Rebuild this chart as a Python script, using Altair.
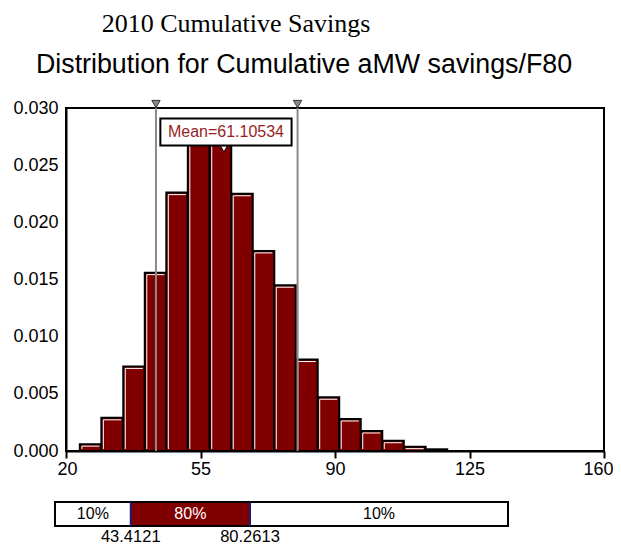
import altair as alt
import pandas as pd

# ---- data ----
bin_edges = [23.6, 29.2, 34.9, 40.5, 46.1, 51.7, 57.4, 63.0, 68.6, 74.2, 79.8,
             85.5, 91.1, 96.7, 102.3, 107.9, 113.6, 119.2]
density = [0.0006, 0.0029, 0.0074, 0.0156, 0.0226, 0.0280, 0.0276, 0.0225,
           0.0175, 0.0145, 0.0080, 0.0047, 0.0028, 0.00175, 0.0009, 0.00038, 0.00015]
percentiles = [43.4121, 80.2613]
percentile_labels = ["43.4121", "80.2613"]
mean_value = 61.10534
mean_label = "Mean=61.10534"
x_ticks = [20, 55, 90, 125, 160]
y_ticks = [0.000, 0.005, 0.010, 0.015, 0.020, 0.025, 0.030]
band_start = [20, 43.4121, 80.2613]
band_end = [43.4121, 80.2613, 160]
band_text = ["10%", "80%", "10%"]
band_fill = ["white", "#800000", "white"]
band_text_color = ["black", "white", "black"]
title_text = "2010 Cumulative Savings"
subtitle_text = "Distribution for Cumulative aMW savings/F80"

W, H = 538, 343
DARK_RED = "#800000"

hist_df = pd.DataFrame({
    "start": bin_edges[:-1],
    "end": bin_edges[1:],
    "density": density,
    "zero": [0.0] * len(density),
})
hl_df = hist_df[hist_df["density"] > 0.0003]
pct_df = pd.DataFrame({"value": percentiles, "label": percentile_labels})
mean_df = pd.DataFrame({"value": [mean_value], "label": [mean_label]})
band_df = pd.DataFrame({"start": band_start, "end": band_end, "text": band_text,
                        "fill": band_fill, "tcolor": band_text_color})
band_df["mid"] = (band_df["start"] + band_df["end"]) / 2
frame_df = pd.DataFrame({"start": [band_start[0]], "end": [band_end[-1]]})
title_df = pd.DataFrame({"t": [title_text]})
subtitle_df = pd.DataFrame({"t": [subtitle_text]})

xs = alt.Scale(domain=[20, 160], nice=False, zero=False)
ys = alt.Scale(domain=[0, 0.030], nice=False)
xa = alt.Axis(values=x_ticks, format="d", labelFontSize=18, labelColor="black",
              domainColor="black", domainWidth=2, tickColor="black",
              tickWidth=2, tickSize=7, labelPadding=2, grid=False,
              labelFlush=True, labelFlushOffset=9)
ya = alt.Axis(values=y_ticks, format=".3f", labelFontSize=18, labelColor="black",
              domainColor="black", domainWidth=2, ticks=False,
              labelPadding=8, grid=False, labelFlush=False)


def X(field):
    return alt.X(field, scale=xs, axis=xa, title=None)


def Y(field):
    return alt.Y(field, scale=ys, axis=ya, title=None)


bars = alt.Chart(hist_df).mark_rect(fill=DARK_RED, stroke="black", strokeWidth=2).encode(
    x=X("start:Q"), x2="end:Q", y=Y("density:Q"), y2="zero:Q",
)

hl_top = alt.Chart(hl_df).mark_rule(color="white", strokeWidth=1, xOffset=2, x2Offset=-2,
                                    yOffset=2).encode(
    x=X("start:Q"), x2="end:Q", y=Y("density:Q"),
)
hl_left = alt.Chart(hl_df).mark_rule(color="white", strokeWidth=1, xOffset=2, yOffset=2,
                                     y2Offset=-2).encode(
    x=X("start:Q"), y=Y("density:Q"), y2="zero:Q",
)

pct_rules = alt.Chart(pct_df).mark_rule(color="#8a8a8a", strokeWidth=2).encode(
    x=X("value:Q"), y=alt.value(0), y2=alt.value(H),
)
pct_tri = alt.Chart(pct_df).mark_point(shape="triangle-down", size=70, filled=True,
                                       fill="#8a8a8a", stroke="#333333", strokeWidth=1,
                                       opacity=1).encode(
    x=X("value:Q"), y=alt.value(-4),
)

mean_box = alt.Chart(mean_df).mark_point(
    shape="M-2.43,-0.5H2.43V0.5H-2.43Z", size=2916, filled=True, fill="white",
    stroke="black", strokeWidth=2, opacity=1, xOffset=2).encode(
    x=X("value:Q"), y=alt.value(24),
)
mean_text = alt.Chart(mean_df).mark_text(fontSize=16, color="#961e1e", baseline="middle",
                                         align="center", dx=2).encode(
    x=X("value:Q"), y=alt.value(24), text="label:N",
)
mean_tri = alt.Chart(mean_df).mark_point(shape="triangle-down", size=45, filled=True,
                                         fill="white", stroke="black", strokeWidth=1,
                                         opacity=1).encode(
    x=X("value:Q"), y=alt.value(41),
)

title_mark = alt.Chart(title_df).mark_text(font="Liberation Serif", fontSize=26,
                                           color="black", align="center",
                                           baseline="alphabetic").encode(
    x=alt.value(170), y=alt.value(-76), text="t:N")
subtitle_mark = alt.Chart(subtitle_df).mark_text(fontSize=26.8, color="black",
                                                 align="center",
                                                 baseline="alphabetic").encode(
    x=alt.value(238), y=alt.value(-35), text="t:N")

top = alt.layer(bars, hl_top, hl_left, pct_rules, pct_tri, mean_box, mean_text, mean_tri,
                title_mark, subtitle_mark)

# ---- percentile band below ----
bs = alt.Scale(domain=[20, 160], range=[-11, 442], nice=False, zero=False)
BY0, BY1 = 394, 418


def BX(field):
    return alt.X(field, scale=bs, axis=None, title=None)


band_rects = alt.Chart(band_df).mark_rect(strokeWidth=0).encode(
    x=BX("start:Q"), x2="end:Q",
    y=alt.value(BY0), y2=alt.value(BY1),
    fill=alt.Fill("fill:N", scale=None),
)
band_frame = alt.Chart(frame_df).mark_rect(fill=None, fillOpacity=0, stroke="black",
                                           strokeWidth=2).encode(
    x=BX("start:Q"), x2="end:Q",
    y=alt.value(BY0), y2=alt.value(BY1),
)
band_lines = alt.Chart(pct_df).mark_rule(color="#1a1a7a", strokeWidth=2).encode(
    x=BX("value:Q"), y=alt.value(BY0), y2=alt.value(BY1),
)
band_text_mark = alt.Chart(band_df).mark_text(fontSize=16, baseline="middle",
                                              align="center").encode(
    x=BX("mid:Q"), y=alt.value((BY0 + BY1) / 2),
    text="text:N", color=alt.Color("tcolor:N", scale=None),
)
band_vals = alt.Chart(pct_df).mark_text(fontSize=16.5, baseline="middle", align="center",
                                        color="black").encode(
    x=BX("value:Q"), y=alt.value(429), text="label:N",
)
bottom = alt.layer(band_rects, band_frame, band_lines, band_text_mark, band_vals)

chart = alt.layer(top, bottom).resolve_scale(x="independent").properties(
    width=W, height=H,
    autosize=alt.AutoSizeParams(type="none"),
    padding={"left": 58, "top": 100, "right": 9, "bottom": 93},
).configure(font="Liberation Sans", background="white").configure_view(
    stroke="black", strokeWidth=2)

chart.save("out.html", embed_options={"renderer": "svg", "actions": False})
